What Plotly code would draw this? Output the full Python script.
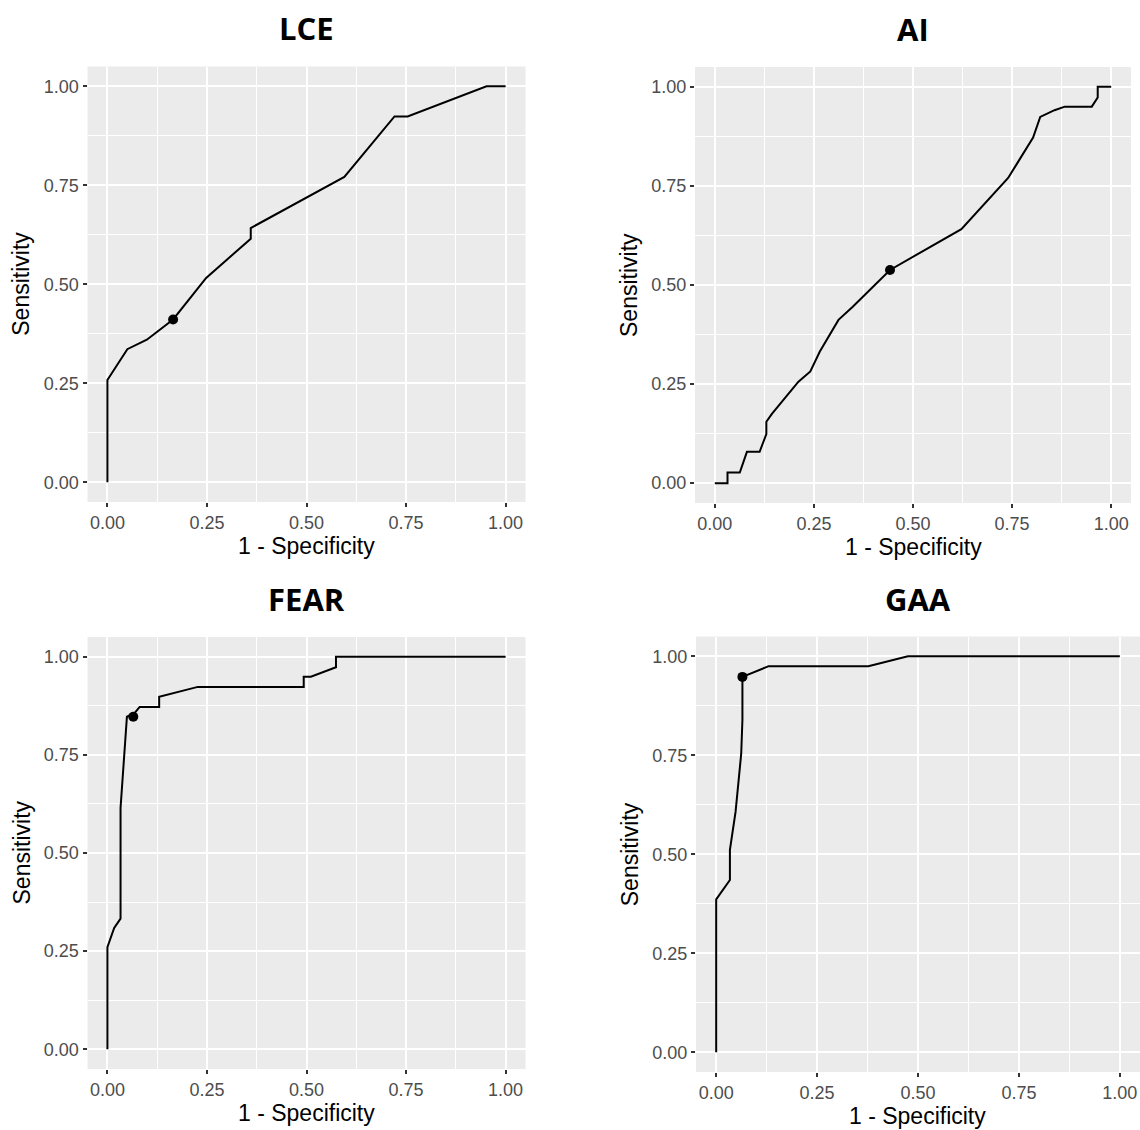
import plotly.graph_objects as go

# ---- data ----
lce_fpr = [0.0, 0.0, 0.05, 0.099, 0.165, 0.248, 0.36, 0.36, 0.595, 0.721, 0.754, 0.952, 1.0]
lce_tpr = [0.0, 0.258, 0.336, 0.360, 0.411, 0.516, 0.615, 0.642, 0.771, 0.924, 0.924, 1.0, 1.0]
lce_best = (0.165, 0.411)

ai_fpr = [0.0, 0.032, 0.032, 0.063, 0.081, 0.113, 0.130, 0.130, 0.144, 0.211, 0.241, 0.265,
          0.312, 0.348, 0.442, 0.622, 0.74, 0.803, 0.821, 0.857, 0.883, 0.951, 0.966, 0.966, 1.0]
ai_tpr = [0.0, 0.0, 0.027, 0.027, 0.079, 0.079, 0.124, 0.155, 0.175, 0.256, 0.282, 0.332,
          0.412, 0.445, 0.538, 0.641, 0.77, 0.872, 0.924, 0.941, 0.950, 0.950, 0.973, 1.0, 1.0]
ai_best = (0.442, 0.538)

fear_fpr = [0.0, 0.0, 0.017, 0.033, 0.033, 0.044, 0.049, 0.068, 0.081, 0.130, 0.130, 0.227,
            0.493, 0.493, 0.511, 0.574, 0.574, 1.0]
fear_tpr = [0.0, 0.260, 0.309, 0.333, 0.615, 0.764, 0.847, 0.856, 0.872, 0.872, 0.898, 0.923,
            0.923, 0.949, 0.949, 0.973, 1.0, 1.0]
fear_best = (0.065, 0.847)

gaa_fpr = [0.0, 0.0, 0.034, 0.034, 0.048, 0.062, 0.065, 0.065, 0.130, 0.377, 0.475, 1.0]
gaa_tpr = [0.0, 0.386, 0.435, 0.511, 0.607, 0.754, 0.839, 0.948, 0.975, 0.975, 1.0, 1.0]
gaa_best = (0.065, 0.948)

titles = ["LCE", "AI", "FEAR", "GAA"]
tick_vals = [0, 0.25, 0.5, 0.75, 1.0]
tick_text = ["0.00", "0.25", "0.50", "0.75", "1.00"]
x_title = "1 - Specificity"
y_title = "Sensitivity"

panels = [
    (lce_fpr, lce_tpr, lce_best),
    (ai_fpr, ai_tpr, ai_best),
    (fear_fpr, fear_tpr, fear_best),
    (gaa_fpr, gaa_tpr, gaa_best),
]

W, H = 1140, 1130
# plot-background boxes in page pixels: (left, right, top, bottom)
boxes = [
    (87.5, 525.5, 66.5, 502),
    (695, 1131, 67, 503),
    (87.5, 525.5, 637, 1069),
    (696, 1140, 636.5, 1072),
]

fig = go.Figure()
axis_font = dict(family="Liberation Sans, Arial, sans-serif", size=18, color="#4D4D4D")
title_font = dict(family="Liberation Sans, Arial, sans-serif", size=23, color="#000000")


def px(xp):
    return xp / W


def py(yp):
    return 1 - yp / H


for i, ((fx, ty, best), (l, r, t, b)) in enumerate(zip(panels, boxes)):
    n = "" if i == 0 else str(i + 1)
    xa, ya = "x" + n, "y" + n
    fig.add_trace(go.Scatter(x=fx, y=ty, mode="lines", xaxis=xa, yaxis=ya,
                             line=dict(color="black", width=2), showlegend=False,
                             hoverinfo="skip"))
    fig.add_trace(go.Scatter(x=[best[0]], y=[best[1]], mode="markers", xaxis=xa, yaxis=ya,
                             marker=dict(color="black", size=10), showlegend=False))
    common = dict(range=[-0.05, 1.05], tickvals=tick_vals, ticktext=tick_text,
                  showgrid=True, gridcolor="white", gridwidth=1.7, zeroline=False,
                  ticks="outside", ticklen=4, tickwidth=1.6, tickcolor="#333333",
                  tickfont=axis_font, showline=False, fixedrange=True,
                  ticklabeloverflow="allow",
                  minor=dict(tickvals=[0.125, 0.375, 0.625, 0.875], showgrid=True,
                             gridcolor="white", gridwidth=0.8, ticks=""))
    fig.update_layout(**{
        ("xaxis" + n): dict(domain=[max(px(l), 0), min(px(r), 1)], anchor=ya, **common),
        ("yaxis" + n): dict(domain=[max(py(b), 0), min(py(t), 1)], anchor=xa, **common),
    })
    cx = (l + r) / 2
    cy = (t + b) / 2
    # panel title
    fig.add_annotation(text="<b>" + titles[i] + "</b>", xref="paper", yref="paper",
                       x=px(cx), y=py(t - 38), showarrow=False,
                       font=dict(family="Open Sans, sans-serif", size=31, color="black"),
                       xanchor="center", yanchor="middle")
    # x-axis title
    fig.add_annotation(text=x_title, xref="paper", yref="paper",
                       x=px(cx), y=py(b + 44), showarrow=False, font=title_font,
                       xanchor="center", yanchor="middle")
    # y-axis title
    fig.add_annotation(text=y_title, xref="paper", yref="paper",
                       x=px(l - 66), y=py(cy), showarrow=False, font=title_font,
                       textangle=-90, xanchor="center", yanchor="middle")

fig.update_layout(width=W, height=H, margin=dict(l=0, r=0, t=0, b=0),
                  paper_bgcolor="white", plot_bgcolor="#EBEBEB", showlegend=False)

fig.write_html("out.html", config={"displayModeBar": False},
               post_script="document.body.style.margin='0';"
                           "document.body.style.overflow='hidden';")
